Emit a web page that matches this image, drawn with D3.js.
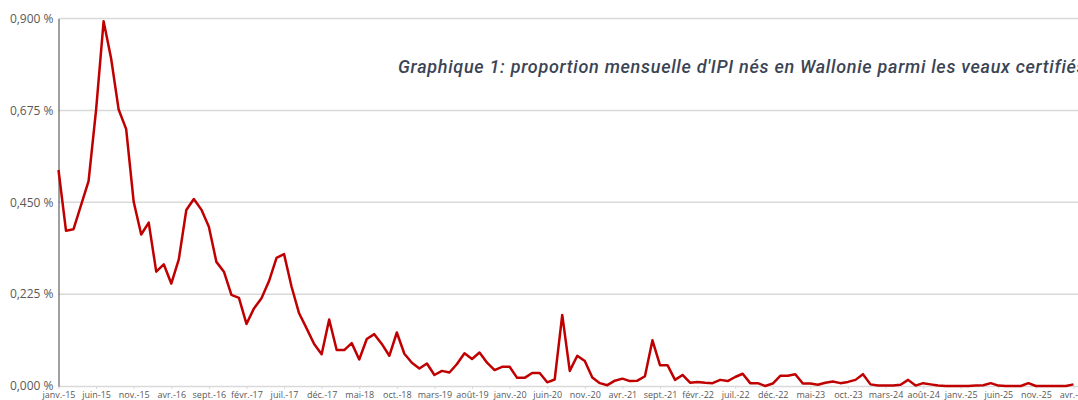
<!DOCTYPE html>
<html>
<head>
<meta charset="utf-8">
<script src="https://cdn.jsdelivr.net/npm/d3@7"></script>
<style>
  body { margin: 0; background: #fff; }
  svg { display: block; }
</style>
</head>
<body>
<svg id="chart" width="1078" height="400"></svg>
<script>
// month names used to build the category labels (janv.-15 ... avr.-26)
const monthNames = ['janv.', 'févr.', 'mars', 'avr.', 'mai', 'juin', 'juil.', 'août', 'sept.', 'oct.', 'nov.', 'déc.'];
const years = ['15', '16', '17', '18', '19', '20', '21', '22', '23', '24', '25', '26'];

// monthly proportion (%)
const proportion = [
  0.529, 0.380, 0.384, 0.443, 0.502, 0.676, 0.893, 0.802, 0.677, 0.629, 0.451, 0.371,
  0.400, 0.280, 0.298, 0.251, 0.310, 0.431, 0.458, 0.432, 0.390, 0.304, 0.280, 0.223,
  0.216, 0.152, 0.190, 0.215, 0.257, 0.314, 0.323, 0.243, 0.178, 0.141, 0.103, 0.078,
  0.163, 0.088, 0.088, 0.105, 0.065, 0.115, 0.127, 0.103, 0.074, 0.131, 0.079, 0.057,
  0.043, 0.055, 0.027, 0.037, 0.033, 0.054, 0.080, 0.066, 0.082, 0.057, 0.039, 0.047,
  0.047, 0.020, 0.020, 0.032, 0.032, 0.009, 0.016, 0.174, 0.037, 0.074, 0.061, 0.021,
  0.007, 0.002, 0.013, 0.018, 0.012, 0.013, 0.024, 0.112, 0.051, 0.051, 0.015, 0.027,
  0.008, 0.010, 0.008, 0.007, 0.015, 0.012, 0.022, 0.030, 0.007, 0.007, 0.000, 0.006,
  0.025, 0.025, 0.029, 0.006, 0.006, 0.003, 0.008, 0.011, 0.007, 0.010, 0.015, 0.029,
  0.004, 0.001, 0.001, 0.001, 0.003, 0.015, 0.001, 0.007, 0.004, 0.001, 0.000, 0.000,
  0.000, 0.000, 0.001, 0.002, 0.007, 0.001, 0.000, 0.000, 0.000, 0.007, 0.000, 0.000,
  0.000, 0.000, 0.000, 0.004
];

const yTicks = [0, 0.225, 0.45, 0.675, 0.9];
const title = "Graphique 1: proportion mensuelle d'IPI nés en Wallonie parmi les veaux certifiés";

const months = [];
years.forEach(y => monthNames.forEach(m => months.push(`${m}-${y}`)));
const categories = months.slice(0, proportion.length);
const data = categories.map((c, i) => ({ month: c, value: proportion[i] }));

const svg = d3.select('#chart');
const plotLeft = 58.5, plotRight = 1073.5, plotTop = 18.5, plotBottom = 386;

const x = d3.scalePoint().domain(categories).range([plotLeft, plotRight]);
const y = d3.scaleLinear().domain([0, 0.9]).range([plotBottom, plotTop]);

const fmt = v => d3.format('.3f')(v).replace('.', ',') + ' %';

// gridlines
svg.append('g')
  .selectAll('line')
  .data(yTicks.slice(1))
  .join('line')
  .attr('x1', plotLeft).attr('x2', 1078)
  .attr('y1', d => y(d)).attr('y2', d => y(d))
  .attr('stroke', '#d9d9d9')
  .attr('stroke-width', 1.5);

// x axis (every 5th month)
const xAxis = svg.append('g')
  .attr('transform', `translate(0,${plotBottom})`)
  .call(d3.axisBottom(x)
    .tickValues(categories.filter((d, i) => i % 5 === 0))
    .tickSize(3)
    .tickSizeOuter(0)
    .tickPadding(3));
xAxis.select('.domain').attr('d', `M${plotLeft},0.5H1078`).attr('stroke', '#d9d9d9').attr('stroke-width', 1.5);
xAxis.selectAll('.tick line').attr('stroke', '#d9d9d9');
xAxis.selectAll('.tick text')
  .attr('fill', '#595959')
  .style('font-family', '"Open Sans", sans-serif')
  .style('font-size', '9px');

// y axis
const yAxis = svg.append('g')
  .attr('transform', `translate(${plotLeft},0)`)
  .call(d3.axisLeft(y).tickValues(yTicks).tickFormat(fmt).tickSize(0).tickPadding(5));
yAxis.select('.domain').attr('stroke', '#404040').attr('stroke-width', 1);
yAxis.selectAll('.tick text')
  .attr('fill', '#595959')
  .style('font-family', '"Open Sans", sans-serif')
  .style('font-size', '12px');

// series
const line = d3.line()
  .x(d => x(d.month))
  .y(d => y(d.value));

svg.append('path')
  .datum(data)
  .attr('d', line)
  .attr('fill', 'none')
  .attr('stroke', '#c00000')
  .attr('stroke-width', 2.5)
  .attr('stroke-linejoin', 'round');

// title (runs past the right edge in the original)
svg.append('text')
  .attr('x', 398)
  .attr('y', 73)
  .attr('fill', '#3b4454')
  .style('font-family', 'Roboto, sans-serif')
  .style('font-style', 'italic')
  .style('font-weight', 500)
  .style('font-size', '18px')
  .style('letter-spacing', '0.7px')
  .text(title);
</script>
</body>
</html>
